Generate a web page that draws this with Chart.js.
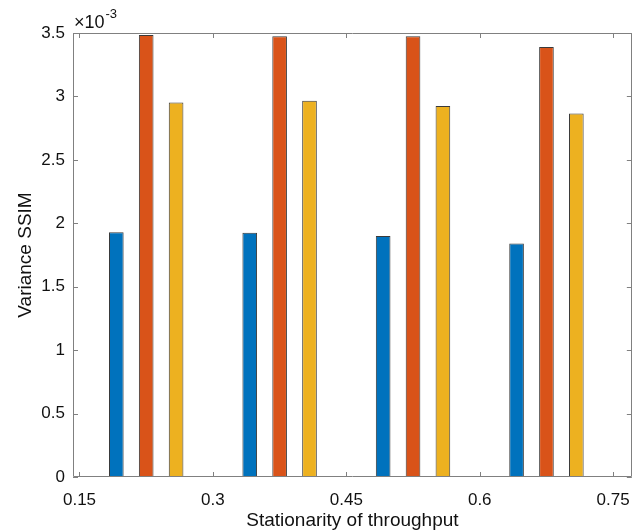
<!DOCTYPE html>
<html>
<head>
<meta charset="utf-8">
<script src="https://cdn.jsdelivr.net/npm/chart.js@4.4.0/dist/chart.umd.min.js"></script>
<style>
html,body{margin:0;padding:0;background:#fff;}
#wrap{width:643px;height:532px;position:relative;}
</style>
</head>
<body>
<div id="wrap"><canvas id="c" width="643" height="532"></canvas></div>
<script>
// ---- data (values in units of 1e-3) ----
const groups = [0.225, 0.375, 0.525, 0.675];
const seriesA = [1.93, 1.925, 1.90, 1.84];
const seriesB = [3.485, 3.475, 3.475, 3.39];
const seriesC = [2.952, 2.965, 2.925, 2.865];
const xTickValues = [0.15, 0.3, 0.45, 0.6, 0.75];
const xTickLabels = ['0.15', '0.3', '0.45', '0.6', '0.75'];
const yTickValues = [0, 0.5, 1, 1.5, 2, 2.5, 3, 3.5];
const yTickLabels = ['0', '0.5', '1', '1.5', '2', '2.5', '3', '3.5'];
const xTitle = 'Stationarity of throughput';
const yTitle = 'Variance SSIM';
const exponentBase = '\u00d710';
const exponentPower = '-3';

const toPoints = (vals) => vals.map((v, i) => ({x: groups[i], y: v}));

const FONT = "'Liberation Sans', Arial, Helvetica, sans-serif";
const AXIS_COLOR = '#808080';
const TEXT_COLOR = '#111111';

const boxPlugin = {
  id: 'matlabBox',
  afterDatasetsDraw(chart) {
    const {ctx, chartArea: a, scales: {x, y}} = chart;
    ctx.save();
    ctx.strokeStyle = AXIS_COLOR;
    ctx.lineWidth = 1;
    ctx.beginPath();
    ctx.rect(Math.round(a.left) + 0.5, Math.round(a.top) + 0.5,
             Math.round(a.right - a.left) - 1, Math.round(a.bottom - a.top) - 1);
    ctx.stroke();
    const L = 5;
    ctx.beginPath();
    xTickValues.forEach(v => {
      const px = Math.round(x.getPixelForValue(v)) + 0.5;
      ctx.moveTo(px, a.bottom); ctx.lineTo(px, a.bottom - L);
      ctx.moveTo(px, a.top); ctx.lineTo(px, a.top + L);
    });
    yTickValues.forEach(v => {
      const py = Math.round(y.getPixelForValue(v)) + 0.5;
      ctx.moveTo(a.left, py); ctx.lineTo(a.left + L, py);
      ctx.moveTo(a.right, py); ctx.lineTo(a.right - L, py);
    });
    ctx.stroke();
    // exponent label
    ctx.fillStyle = TEXT_COLOR;
    ctx.textBaseline = 'alphabetic';
    ctx.textAlign = 'left';
    ctx.font = '18px ' + FONT;
    const bx = a.left + 1, by = a.top - 5;
    ctx.fillText(exponentBase, bx, by);
    const w = ctx.measureText(exponentBase).width;
    ctx.font = '13px ' + FONT;
    ctx.fillText(exponentPower, bx + w + 1, by - 10);
    ctx.restore();
  }
};

const common = {
  borderColor: '#3a3a3a',
  borderWidth: 1,
  borderSkipped: false,
  categoryPercentage: 0.672,
  barPercentage: 0.49
};

new Chart(document.getElementById('c'), {
  type: 'bar',
  data: {
    datasets: [
      Object.assign({label: 'A', data: toPoints(seriesA), backgroundColor: '#0072BD'}, common),
      Object.assign({label: 'B', data: toPoints(seriesB), backgroundColor: '#D95319'}, common),
      Object.assign({label: 'C', data: toPoints(seriesC), backgroundColor: '#EDB120'}, common)
    ]
  },
  options: {
    responsive: false,
    animation: false,
    devicePixelRatio: 1,
    layout: {padding: {left: 0, right: 9, top: 33, bottom: 0}},
    plugins: {legend: {display: false}, tooltip: {enabled: false}},
    scales: {
      x: {
        type: 'linear',
        offset: false,
        min: 0.1427,
        max: 0.771,
        grid: {display: false, drawTicks: false, offset: false},
        border: {display: false},
        afterBuildTicks: (s) => { s.ticks = xTickValues.map(v => ({value: v})); },
        afterFit: (s) => { s.height = 55; },
        ticks: {
          padding: 13,
          maxRotation: 0,
          autoSkip: false,
          color: TEXT_COLOR,
          font: {family: FONT, size: 17},
          callback: (v, i) => xTickLabels[i]
        },
        title: {
          display: true,
          text: xTitle,
          color: TEXT_COLOR,
          font: {family: FONT, size: 19},
          padding: {top: 0, bottom: 0}
        }
      },
      y: {
        type: 'linear',
        min: 0,
        max: 3.5,
        grid: {display: false, drawTicks: false},
        border: {display: false},
        afterBuildTicks: (s) => { s.ticks = yTickValues.map(v => ({value: v})); },
        afterFit: (s) => { s.width = 73; },
        ticks: {
          padding: 8,
          autoSkip: false,
          color: TEXT_COLOR,
          font: {family: FONT, size: 17},
          callback: (v, i) => yTickLabels[i]
        },
        title: {
          display: true,
          text: yTitle,
          color: TEXT_COLOR,
          font: {family: FONT, size: 19},
          padding: {top: 14.5, bottom: 0}
        }
      }
    }
  },
  plugins: [boxPlugin]
});
</script>
</body>
</html>
